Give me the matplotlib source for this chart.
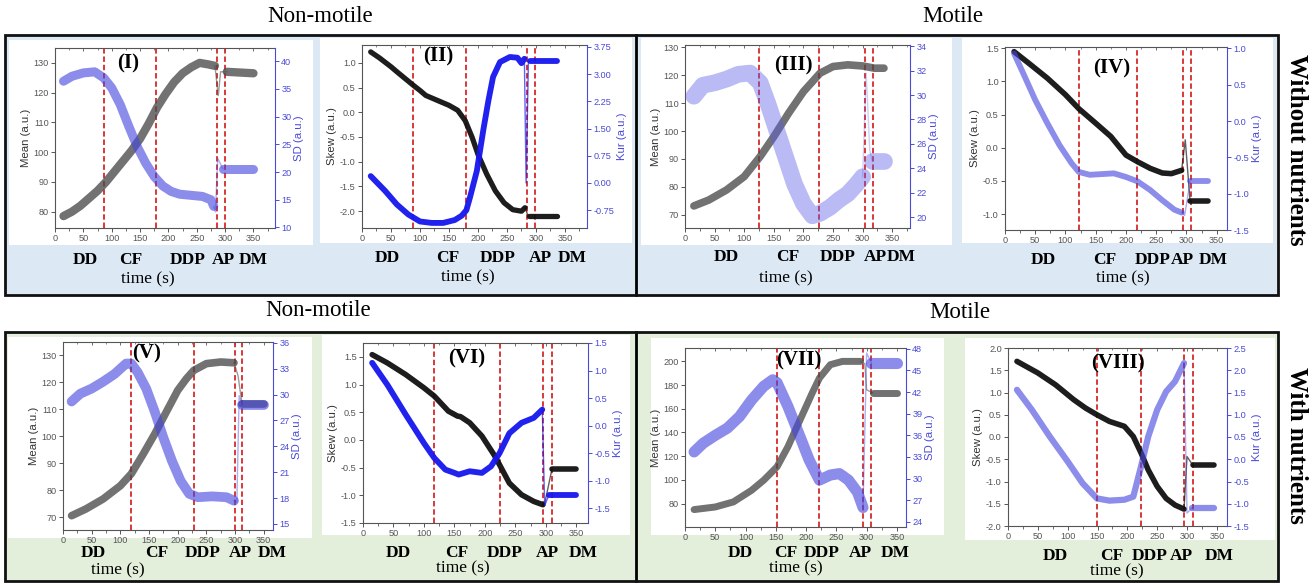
import matplotlib
matplotlib.use("Agg")
import matplotlib.pyplot as plt
from matplotlib.patches import Rectangle
from matplotlib.lines import Line2D
from matplotlib.ticker import MultipleLocator, FixedLocator, FormatStrFormatter

W, H, DPI = 1315, 584, 100

# ------------------------------------------------------------------ data
TICKS_X = [0, 50, 100, 150, 200, 250, 300, 350]
PHASES = ["DD", "CF", "DDP", "AP", "DM"]

# Panel I : non-motile, without nutrients  (Mean / SD)
I_LINES = [86, 178, 285, 299]
I_MEAN_T = [15, 30, 45, 60, 75, 90, 105, 120, 135, 150, 165, 180, 195, 210, 225, 240, 255, 270, 282]
I_MEAN = [78.5, 80, 82, 84.5, 87, 90, 93.5, 97, 100.5, 104.5, 109.5, 115, 119.5, 123.5, 126.5, 128.5, 130, 129.5, 129]
I_MEAN_AP_T = [288, 292]
I_MEAN_AP = [119, 127]
I_MEAN_DM_T = [303, 350]
I_MEAN_DM = [127, 126.5]
I_SD_T = [15, 30, 50, 70, 86, 100, 115, 130, 145, 160, 175, 190, 205, 220, 240, 260, 275, 280]
I_SD = [36.4, 37.3, 37.9, 38.1, 37.0, 35.2, 32.2, 28.3, 24.6, 21.6, 19.2, 17.5, 16.5, 16.0, 15.8, 15.6, 15.0, 13.8]
I_SD_AP_T = [283, 287]
I_SD_AP = [12.8, 22.5]
I_SD_DM_T = [296, 350]
I_SD_DM = [20.6, 20.6]

# Panel II : non-motile, without nutrients  (Skew / Kur)
II_LINES = [88, 180, 284, 298]
II_SKEW_T = [15, 30, 50, 60, 88, 100, 110, 130, 150, 165, 178, 190, 200, 215, 230, 245, 260, 275, 281]
II_SKEW = [1.22, 1.10, 0.92, 0.82, 0.55, 0.44, 0.34, 0.24, 0.14, 0.04, -0.17, -0.51, -0.85, -1.25, -1.59, -1.83, -1.97, -2.0, -1.93]
II_SKEW_AP_T = [285]
II_SKEW_AP = [-2.05]
II_SKEW_DM_T = [288, 337]
II_SKEW_DM = [-2.10, -2.10]
II_KUR_T = [15, 40, 60, 80, 100, 120, 140, 160, 172, 180, 186, 198, 209, 218, 226, 238, 255, 268, 275, 280]
II_KUR = [0.19, -0.22, -0.59, -0.87, -1.06, -1.10, -1.10, -1.02, -0.90, -0.75, -0.41, 0.33, 1.44, 2.27, 2.92, 3.33, 3.47, 3.45, 3.30, 3.42]
II_KUR_AP_T = [283, 287]
II_KUR_AP = [0.0, 3.35]
II_KUR_DM_T = [290, 337]
II_KUR_DM = [3.35, 3.35]

# Panel III : motile, without nutrients  (Mean / SD)
III_LINES = [125, 226, 304, 318]
III_MEAN_T = [15, 40, 70, 100, 127, 150, 175, 200, 228, 250, 275, 300, 320, 336]
III_MEAN = [73.2, 75.3, 78.9, 83.7, 90.9, 98.0, 106.4, 114.1, 120.7, 123.1, 123.7, 123.3, 122.5, 122.5]
III_MEAN_AP_T = []
III_MEAN_AP = []
III_MEAN_DM_T = []
III_MEAN_DM = []
III_SD_T = [15, 30, 50, 70, 90, 110, 127, 140, 155, 170, 185, 200, 215, 228, 245, 260, 275, 290, 300]
III_SD = [29.9, 30.8, 31.0, 31.3, 31.7, 31.8, 31.0, 29.3, 27.1, 24.9, 22.7, 21.1, 20.1, 20.3, 20.8, 21.4, 21.9, 22.7, 23.3]
III_SD_AP_T = [306, 312]
III_SD_AP = [31.8, 25.5]
III_SD_DM_T = [316, 336]
III_SD_DM = [24.6, 24.6]

# Panel IV : motile, without nutrients  (Skew / Kur)
IV_LINES = [122, 219, 294, 308]
IV_SKEW_T = [15, 40, 70, 100, 122, 150, 175, 200, 219, 240, 260, 275, 292]
IV_SKEW = [1.45, 1.27, 1.05, 0.80, 0.59, 0.37, 0.17, -0.11, -0.21, -0.31, -0.38, -0.39, -0.34]
IV_SKEW_AP_T = [298]
IV_SKEW_AP = [0.12]
IV_SKEW_DM_T = [306, 335]
IV_SKEW_DM = [-0.81, -0.81]
IV_KUR_T = [15, 30, 50, 70, 90, 110, 122, 140, 160, 180, 200, 219, 240, 260, 280, 292]
IV_KUR = [0.93, 0.66, 0.29, -0.03, -0.33, -0.58, -0.70, -0.74, -0.73, -0.72, -0.77, -0.83, -0.95, -1.09, -1.22, -1.26]
IV_KUR_AP_T = [297]
IV_KUR_AP = [-1.30]
IV_KUR_DM_T = [306, 335]
IV_KUR_DM = [-0.83, -0.83]

# Panel V : non-motile, with nutrients  (Mean / SD)
V_LINES = [119, 228, 299, 312]
V_MEAN_T = [15, 40, 70, 100, 119, 140, 160, 180, 200, 215, 228, 250, 275, 298]
V_MEAN = [70.6, 73.1, 76.8, 81.7, 86.1, 93.5, 100.9, 109.0, 117.0, 121.3, 124.4, 126.9, 127.5, 127.2]
V_MEAN_AP_T = [305]
V_MEAN_AP = [122.5]
V_MEAN_DM_T = [312, 350]
V_MEAN_DM = [112, 112]
V_SD_T = [15, 30, 50, 70, 90, 110, 119, 130, 145, 160, 175, 190, 205, 220, 235, 260, 285, 298]
V_SD = [29.2, 30.1, 30.7, 31.5, 32.4, 33.6, 33.6, 32.6, 30.7, 28.0, 25.0, 22.3, 20.0, 18.5, 18.1, 18.2, 18.1, 17.7]
V_SD_AP_T = [303, 307]
V_SD_AP = [17.5, 29.9]
V_SD_DM_T = [312, 350]
V_SD_DM = [28.8, 28.8]

# Panel VI : non-motile, with nutrients  (Skew / Kur)
VI_LINES = [117, 224, 295, 310]
VI_SKEW_T = [15, 40, 70, 100, 117, 140, 155, 160, 175, 195, 215, 224, 240, 260, 280, 295]
VI_SKEW = [1.54, 1.39, 1.18, 0.94, 0.79, 0.52, 0.43, 0.42, 0.31, 0.07, -0.27, -0.45, -0.78, -0.99, -1.11, -1.17]
VI_SKEW_AP_T = [298]
VI_SKEW_AP = [-1.15]
VI_SKEW_DM_T = [310, 350]
VI_SKEW_DM = [-0.52, -0.52]
VI_KUR_T = [15, 40, 70, 100, 117, 135, 150, 157, 175, 195, 210, 224, 240, 260, 280, 294]
VI_KUR = [1.14, 0.74, 0.20, -0.32, -0.59, -0.80, -0.86, -0.89, -0.83, -0.86, -0.74, -0.50, -0.14, 0.05, 0.14, 0.29]
VI_KUR_AP_T = [298]
VI_KUR_AP = [-1.45]
VI_KUR_DM_T = [305, 350]
VI_KUR_DM = [-1.26, -1.26]

# Panel VII : motile, with nutrients  (Mean / SD)
VII_LINES = [152, 222, 294, 308]
VII_MEAN_T = [15, 50, 80, 110, 130, 152, 170, 190, 210, 222, 240, 260, 290]
VII_MEAN = [74.9, 77.1, 81.4, 91.2, 99.7, 111.0, 128.0, 150.6, 173.2, 185.9, 197.2, 200, 200]
VII_MEAN_AP_T = [297, 300]
VII_MEAN_AP = [198, 176]
VII_MEAN_DM_T = [310, 350]
VII_MEAN_DM = [173.5, 173.5]
VII_SD_T = [15, 30, 50, 70, 90, 110, 130, 145, 152, 170, 190, 205, 222, 240, 255, 270, 285, 294]
VII_SD = [33.7, 34.9, 36.0, 37.0, 38.6, 40.9, 42.8, 43.7, 43.3, 40.0, 35.8, 32.6, 29.8, 30.5, 30.7, 29.8, 28.1, 26.0]
VII_SD_AP_T = [300]
VII_SD_AP = [47.4]
VII_SD_DM_T = [308, 350]
VII_SD_DM = [46.0, 46.0]

# Panel VIII : motile, with nutrients  (Skew / Kur)
VIII_LINES = [149, 223, 295, 310]
VIII_SKEW_T = [15, 50, 80, 110, 130, 149, 170, 195, 210, 223, 235, 250, 265, 280, 295]
VIII_SKEW = [1.70, 1.44, 1.17, 0.84, 0.65, 0.50, 0.35, 0.24, 0.01, -0.36, -0.74, -1.11, -1.38, -1.53, -1.62]
VIII_SKEW_AP_T = [300]
VIII_SKEW_AP = [-0.44]
VIII_SKEW_DM_T = [310, 345]
VIII_SKEW_DM = [-0.64, -0.64]
VIII_KUR_T = [15, 40, 70, 100, 125, 149, 170, 195, 210, 223, 235, 250, 265, 280, 295]
VIII_KUR = [1.56, 1.11, 0.51, -0.05, -0.54, -0.88, -0.93, -0.91, -0.84, -0.16, 0.51, 1.11, 1.52, 1.75, 2.16]
VIII_KUR_AP_T = [300]
VIII_KUR_AP = [-1.21]
VIII_KUR_DM_T = [308, 345]
VIII_KUR_DM = [-1.10, -1.10]

# ------------------------------------------------------------------ styles
SERIF = ["Liberation Serif", "DejaVu Serif"]
SANS = ["Liberation Sans", "DejaVu Sans"]
BLUE_BG = "#dce8f4"
GREEN_BG = "#e3efdb"
AX_GREY = "#555555"
AX_BLUE = "#4a4ad6"
RED = "#d42a2a"

BLACK_FUZZ = dict(color="#4a4a4a", alpha=0.78)
BLACK_SOLID = dict(color="#111111", alpha=0.95)
BLUE_FUZZ = dict(color="#4646e0", alpha=0.62)
BLUE_SOLID = dict(color="#1616ee", alpha=0.95)
BLUE_WIDE = dict(color="#5b5be6", alpha=0.42)

plt.rcParams["font.family"] = SANS
fig = plt.figure(figsize=(W / DPI, H / DPI), dpi=DPI)
fig.patch.set_facecolor("white")


def fx(x):
    return x / W


def fy(y):
    return 1 - y / H


def rect(x0, y0, x1, y1, fc="none", ec="none", lw=0.0, z=-5):
    fig.add_artist(Rectangle((fx(x0), fy(y1)), fx(x1) - fx(x0), fy(y0) - fy(y1),
                             transform=fig.transFigure, facecolor=fc, edgecolor=ec,
                             linewidth=lw, zorder=z))


def vline(x, y0, y1, lw=2.0, z=5):
    fig.add_artist(Line2D([fx(x), fx(x)], [fy(y0), fy(y1)], transform=fig.transFigure,
                          color="black", linewidth=lw, zorder=z))


# row backgrounds & frames
rect(5, 35, 1278, 295, fc=BLUE_BG, z=-10)
rect(5, 332, 1278, 581, fc=GREEN_BG, z=-10)
rect(5, 35, 1278, 295, ec="#111111", lw=2.0, z=6)
rect(5, 332, 1278, 581, ec="#111111", lw=2.0, z=6)
vline(636, 35, 295)
vline(636, 332, 581)

# titles
for (x, y, s) in [(320, 16, "Non-motile"), (953, 16, "Motile"),
                  (318, 311, "Non-motile"), (960, 312, "Motile")]:
    fig.text(fx(x), fy(y), s, family=SERIF, fontsize=16.5, ha="center", va="center")
fig.text(fx(1297), fy(150), "Without nutrients", family=SERIF, fontsize=18,
         fontweight="bold", rotation=270, ha="center", va="center")
fig.text(fx(1297), fy(445), "With nutrients", family=SERIF, fontsize=18,
         fontweight="bold", rotation=270, ha="center", va="center")


def draw_series(ax, t, v, ap_t, ap_v, dm_t, dm_v, style, lw):
    kw = dict(solid_capstyle="round", solid_joinstyle="round", zorder=3)
    ax.plot(t, v, lw=lw, **style, **kw)
    ct = [t[-1]] + list(ap_t) + ([dm_t[0]] if dm_t else [])
    cv = [v[-1]] + list(ap_v) + ([dm_v[0]] if dm_v else [])
    if len(ct) > 1:
        ax.plot(ct, cv, lw=1.0, color=style["color"], alpha=style["alpha"] * 0.7, zorder=3)
    if dm_t:
        ax.plot(dm_t, dm_v, lw=lw, **style, **kw)


PANELS = [
    dict(name="(I)", ax=(55, 48, 275, 228), white=(9, 40, 313, 245), xmax=388, lab=(128, 63),
         lines=I_LINES, ylab=("Mean (a.u.)", "SD (a.u.)"),
         yl=(74.5, 135), yr=(9.9, 42.4), tl=[80, 90, 100, 110, 120, 130], tr=[10, 15, 20, 25, 30, 35, 40],
         fl="%d", fr="%d",
         s1=(I_MEAN_T, I_MEAN, I_MEAN_AP_T, I_MEAN_AP, I_MEAN_DM_T, I_MEAN_DM), st1=(BLACK_FUZZ, 6.0),
         s2=(I_SD_T, I_SD, I_SD_AP_T, I_SD_AP, I_SD_DM_T, I_SD_DM), st2=(BLUE_FUZZ, 6.5),
         ph=[85, 131, 188, 223, 253], phy=260, tm=(148, 279)),
    dict(name="(II)", ax=(362, 45, 587, 228), white=(320, 38, 632, 243), xmax=388, lab=(438, 56),
         lines=II_LINES, ylab=("Skew (a.u.)", "Kur (a.u.)"),
         yl=(-2.34, 1.36), yr=(-1.24, 3.80), tl=[-2.0, -1.5, -1.0, -0.5, 0.0, 0.5, 1.0],
         tr=[-0.75, 0.0, 0.75, 1.5, 2.25, 3.0, 3.75], fl="%.1f", fr="%.2f",
         s1=(II_SKEW_T, II_SKEW, II_SKEW_AP_T, II_SKEW_AP, II_SKEW_DM_T, II_SKEW_DM), st1=(BLACK_SOLID, 3.8),
         s2=(II_KUR_T, II_KUR, II_KUR_AP_T, II_KUR_AP, II_KUR_DM_T, II_KUR_DM), st2=(BLUE_SOLID, 4.2),
         ph=[387, 448, 498, 540, 572], phy=258, tm=(468, 277)),
    dict(name="(III)", ax=(685, 45, 910, 228), white=(641, 38, 952, 245), xmax=380, lab=(793, 65),
         lines=III_LINES, ylab=("Mean (a.u.)", "SD (a.u.)"),
         yl=(65.3, 130.8), yr=(19.1, 34.1), tl=[70, 80, 90, 100, 110, 120, 130],
         tr=[20, 22, 24, 26, 28, 30, 32, 34], fl="%d", fr="%d",
         s1=(III_MEAN_T, III_MEAN, III_MEAN_AP_T, III_MEAN_AP, III_MEAN_DM_T, III_MEAN_DM), st1=(BLACK_FUZZ, 5.5),
         s2=(III_SD_T, III_SD, III_SD_AP_T, III_SD_AP, III_SD_DM_T, III_SD_DM), st2=(BLUE_WIDE, 12.0),
         ph=[726, 788, 838, 875, 901], phy=257, tm=(786, 278)),
    dict(name="(IV)", ax=(1005, 47, 1227, 230), white=(962, 38, 1273, 243), xmax=367, lab=(1112, 68),
         lines=IV_LINES, ylab=("Skew (a.u.)", "Kur (a.u.)"),
         yl=(-1.24, 1.52), yr=(-1.5, 1.02), tl=[-1.0, -0.5, 0.0, 0.5, 1.0, 1.5],
         tr=[-1.5, -1.0, -0.5, 0.0, 0.5, 1.0], fl="%.1f", fr="%.1f",
         s1=(IV_SKEW_T, IV_SKEW, IV_SKEW_AP_T, IV_SKEW_AP, IV_SKEW_DM_T, IV_SKEW_DM), st1=(BLACK_SOLID, 4.0),
         s2=(IV_KUR_T, IV_KUR, IV_KUR_AP_T, IV_KUR_AP, IV_KUR_DM_T, IV_KUR_DM), st2=(BLUE_FUZZ, 4.2),
         ph=[1043, 1105, 1153, 1182, 1213], phy=260, tm=(1123, 278)),
    dict(name="(V)", ax=(63, 342, 273, 530), white=(8, 337, 312, 538), xmax=366, lab=(147, 353),
         lines=V_LINES, ylab=("Mean (a.u.)", "SD (a.u.)"),
         yl=(65.3, 134.9), yr=(14.3, 36.1), tl=[70, 80, 90, 100, 110, 120, 130],
         tr=[15, 18, 21, 24, 27, 30, 33, 36], fl="%d", fr="%d",
         s1=(V_MEAN_T, V_MEAN, V_MEAN_AP_T, V_MEAN_AP, V_MEAN_DM_T, V_MEAN_DM), st1=(BLACK_FUZZ, 5.5),
         s2=(V_SD_T, V_SD, V_SD_AP_T, V_SD_AP, V_SD_DM_T, V_SD_DM), st2=(BLUE_FUZZ, 7.0),
         ph=[93, 157, 203, 240, 272], phy=553, tm=(118, 570)),
    dict(name="(VI)", ax=(363, 343, 588, 523), white=(322, 335, 630, 535), xmax=369, lab=(467, 358),
         lines=VI_LINES, ylab=("Skew (a.u.)", "Kur (a.u.)"),
         yl=(-1.5, 1.75), yr=(-1.77, 1.5), tl=[-1.5, -1.0, -0.5, 0.0, 0.5, 1.0, 1.5],
         tr=[-1.5, -1.0, -0.5, 0.0, 0.5, 1.0, 1.5], fl="%.1f", fr="%.1f",
         s1=(VI_SKEW_T, VI_SKEW, VI_SKEW_AP_T, VI_SKEW_AP, VI_SKEW_DM_T, VI_SKEW_DM), st1=(BLACK_SOLID, 4.0),
         s2=(VI_KUR_T, VI_KUR, VI_KUR_AP_T, VI_KUR_AP, VI_KUR_DM_T, VI_KUR_DM), st2=(BLUE_SOLID, 4.2),
         ph=[398, 457, 505, 547, 583], phy=553, tm=(463, 568)),
    dict(name="(VII)", ax=(685, 348, 906, 527), white=(651, 338, 944, 535), xmax=365, lab=(799, 360),
         lines=VII_LINES, ylab=("Mean (a.u.)", "SD (a.u.)"),
         yl=(60.2, 211.3), yr=(23.3, 48.1), tl=[80, 100, 120, 140, 160, 180, 200],
         tr=[24, 27, 30, 33, 36, 39, 42, 45, 48], fl="%d", fr="%d",
         s1=(VII_MEAN_T, VII_MEAN, VII_MEAN_AP_T, VII_MEAN_AP, VII_MEAN_DM_T, VII_MEAN_DM), st1=(BLACK_FUZZ, 5.0),
         s2=(VII_SD_T, VII_SD, VII_SD_AP_T, VII_SD_AP, VII_SD_DM_T, VII_SD_DM), st2=(BLUE_FUZZ, 8.0),
         ph=[740, 786, 822, 860, 895], phy=553, tm=(796, 568)),
    dict(name="(VIII)", ax=(1008, 348, 1227, 526), white=(965, 338, 1275, 540), xmax=367, lab=(1118, 363),
         lines=VIII_LINES, ylab=("Skew (a.u.)", "Kur (a.u.)"),
         yl=(-2.0, 2.0), yr=(-1.5, 2.5), tl=[-2.0, -1.5, -1.0, -0.5, 0.0, 0.5, 1.0, 1.5, 2.0],
         tr=[-1.5, -1.0, -0.5, 0.0, 0.5, 1.0, 1.5, 2.0, 2.5], fl="%.1f", fr="%.1f",
         s1=(VIII_SKEW_T, VIII_SKEW, VIII_SKEW_AP_T, VIII_SKEW_AP, VIII_SKEW_DM_T, VIII_SKEW_DM), st1=(BLACK_SOLID, 4.0),
         s2=(VIII_KUR_T, VIII_KUR, VIII_KUR_AP_T, VIII_KUR_AP, VIII_KUR_DM_T, VIII_KUR_DM), st2=(BLUE_FUZZ, 4.5),
         ph=[1055, 1112, 1150, 1181, 1219], phy=556, tm=(1117, 571)),
]

for p in PANELS:
    rect(*p["white"], fc="white", z=-8)
    x0, y0, x1, y1 = p["ax"]
    ax = fig.add_axes([fx(x0), fy(y1), fx(x1) - fx(x0), fy(y0) - fy(y1)])
    ax.set_facecolor("white")
    ax2 = ax.twinx()
    ax.set_xlim(0, p["xmax"])
    ax.set_ylim(*p["yl"])
    ax2.set_ylim(*p["yr"])
    ax.xaxis.set_major_locator(FixedLocator(TICKS_X))
    ax.xaxis.set_minor_locator(MultipleLocator(25))
    ax.yaxis.set_major_locator(FixedLocator(p["tl"]))
    ax2.yaxis.set_major_locator(FixedLocator(p["tr"]))
    ax.yaxis.set_major_formatter(FormatStrFormatter(p["fl"]))
    ax2.yaxis.set_major_formatter(FormatStrFormatter(p["fr"]))

    for s in ["left", "bottom", "top"]:
        ax.spines[s].set_color(AX_GREY)
        ax.spines[s].set_linewidth(0.8)
    ax.spines["right"].set_visible(False)
    for s in ["left", "bottom", "top"]:
        ax2.spines[s].set_visible(False)
    ax2.spines["right"].set_color(AX_BLUE)
    ax2.spines["right"].set_linewidth(0.8)

    ax.tick_params(axis="both", which="major", direction="out", length=3, width=0.7,
                   colors=AX_GREY, labelsize=6.6, pad=1.5)
    ax.tick_params(axis="x", which="minor", direction="out", length=1.8, width=0.6, colors=AX_GREY)
    ax.tick_params(axis="x", which="both", top=False)
    ax2.tick_params(axis="y", which="major", direction="out", length=3, width=0.7,
                    colors=AX_BLUE, labelsize=6.6, pad=1.5)
    top = ax.secondary_xaxis("top")
    top.xaxis.set_major_locator(FixedLocator(TICKS_X))
    top.xaxis.set_minor_locator(MultipleLocator(25))
    top.tick_params(which="major", direction="in", length=2.5, width=0.6, colors=AX_GREY,
                    labeltop=False)
    top.tick_params(which="minor", direction="in", length=1.5, width=0.5, colors=AX_GREY)
    top.spines["top"].set_visible(False)

    ax.set_ylabel(p["ylab"][0], fontsize=8.2, color="#333333", labelpad=2)
    ax2.set_ylabel(p["ylab"][1], fontsize=8.2, color=AX_BLUE, labelpad=2)

    for xl in p["lines"]:
        ax.axvline(xl, color=RED, lw=1.3, ls=(0, (3, 1.6)), zorder=2)

    draw_series(ax, *p["s1"], p["st1"][0], p["st1"][1])
    draw_series(ax2, *p["s2"], p["st2"][0], p["st2"][1])

    fig.text(fx(p["lab"][0]), fy(p["lab"][1]), p["name"], family=SERIF, fontsize=15,
             fontweight="bold", ha="center", va="center", zorder=7)
    for xp, lab in zip(p["ph"], PHASES):
        fig.text(fx(xp), fy(p["phy"]), lab, family=SERIF, fontsize=12.5, fontweight="bold",
                 ha="center", va="center")
    fig.text(fx(p["tm"][0]), fy(p["tm"][1]), "time (s)", family=SERIF, fontsize=12.5,
             ha="center", va="center")

fig.savefig("out.png", dpi=DPI, facecolor="white")
